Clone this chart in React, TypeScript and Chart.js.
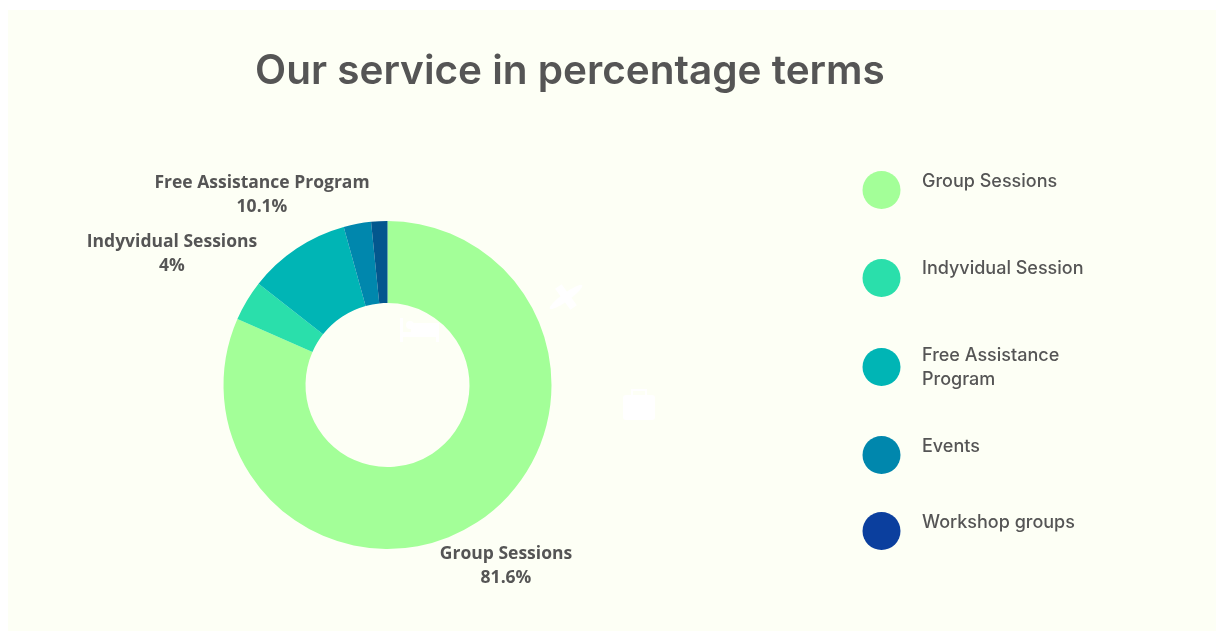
import React, { useEffect, useRef } from "react";
import { Chart, registerables } from "chart.js";

Chart.register(...registerables);

const categories = ["Group Sessions", "Indyvidual Sessions", "Free Assistance Program", "Events", "Workshop groups"];
const shares = [81.6, 4, 10.1, 2.7, 1.6];
const sliceColors = ["#a3ff98", "#2adfab", "#00b5b5", "#0087ad", "#03578e"];

const titleText = "Our service in percentage terms";

const calloutLines = [
  ["Group Sessions", "81.6%"],
  ["Indyvidual Sessions", "4%"],
  ["Free Assistance Program", "10.1%"],
];

const legendLines = [
  ["Group Sessions"],
  ["Indyvidual Session"],
  ["Free Assistance", "Program"],
  ["Events"],
  ["Workshop groups"],
];
const legendColors = ["#a3ff98", "#2adfab", "#00b5b5", "#0087ad", "#0b3f9e"];

const INK = "#555555";
const PANEL = "#fdfff5";

// Page backdrop, panel and the faint white pictograms behind the ring.
const backdrop = {
  id: "backdrop",
  beforeDraw(chart: any) {
    const { ctx } = chart;
    ctx.save();
    ctx.fillStyle = "#ffffff";
    ctx.fillRect(0, 0, 1224, 631);
    ctx.fillStyle = PANEL;
    ctx.fillRect(8, 10, 1208, 621);

    ctx.fillStyle = "#ffffff";
    // bed
    ctx.fillRect(400, 318, 3, 24);
    ctx.fillRect(400, 332, 39, 5);
    ctx.fillRect(436, 332, 3, 10);
    ctx.fillRect(411, 323, 28, 10);
    ctx.beginPath();
    ctx.arc(410, 325, 4, 0, Math.PI * 2);
    ctx.fill();
    // aeroplane
    ctx.save();
    ctx.translate(566, 297);
    ctx.rotate(-Math.PI / 5);
    ctx.beginPath();
    ctx.ellipse(0, 0, 20, 4, 0, 0, Math.PI * 2);
    ctx.fill();
    ctx.fillRect(-4, -13, 8, 26);
    ctx.restore();
    // briefcase
    ctx.beginPath();
    ctx.roundRect(623, 395, 32, 25, 3);
    ctx.fill();
    ctx.strokeStyle = "#ffffff";
    ctx.lineWidth = 2;
    ctx.strokeRect(632, 390, 14, 6);
    ctx.restore();
  },
};

// Title, slice callouts and the wrapped legend column.
const annotations = {
  id: "annotations",
  afterDraw(chart: any) {
    const { ctx } = chart;
    ctx.save();
    ctx.fillStyle = INK;
    ctx.textBaseline = "middle";

    ctx.textAlign = "left";
    ctx.font = "600 40.5px Inter, sans-serif";
    ctx.fillText(titleText, 255, 72);

    ctx.textAlign = "center";
    ctx.font = "700 17.5px 'Open Sans', sans-serif";
    const calloutAnchors = [
      [506, 554],
      [172, 242],
      [262, 183],
    ];
    calloutLines.forEach((lines, i) => {
      lines.forEach((line, j) => {
        ctx.fillText(line, calloutAnchors[i][0], calloutAnchors[i][1] + j * 24);
      });
    });

    const dotY = [190, 278, 367, 455, 531];
    const textY = [182, 269, 356, 447, 523];
    legendLines.forEach((lines, i) => {
      ctx.fillStyle = legendColors[i];
      ctx.beginPath();
      ctx.arc(881.5, dotY[i], 19, 0, Math.PI * 2);
      ctx.fill();
      ctx.fillStyle = INK;
      ctx.textAlign = "left";
      ctx.font = "500 18px Inter, sans-serif";
      lines.forEach((line, j) => ctx.fillText(line, 922, textY[i] + j * 24));
    });
    ctx.restore();
  },
};

export default function App() {
  const canvasRef = useRef<HTMLCanvasElement>(null);

  useEffect(() => {
    const chart = new Chart(canvasRef.current!, {
      type: "doughnut",
      data: {
        labels: categories,
        datasets: [{ data: shares, backgroundColor: sliceColors, borderWidth: 0 }],
      },
      options: {
        animation: false,
        responsive: false,
        cutout: "50%",
        layout: { padding: { left: 223.5, top: 221, right: 672.5, bottom: 82 } },
        plugins: { legend: { display: false }, tooltip: { enabled: false } },
      },
      plugins: [backdrop, annotations],
    });
    return () => chart.destroy();
  }, []);

  return (
    <canvas
      ref={canvasRef}
      width={1224}
      height={631}
      style={{ position: "fixed", left: 0, top: 0, width: 1224, height: 631 }}
    />
  );
}
